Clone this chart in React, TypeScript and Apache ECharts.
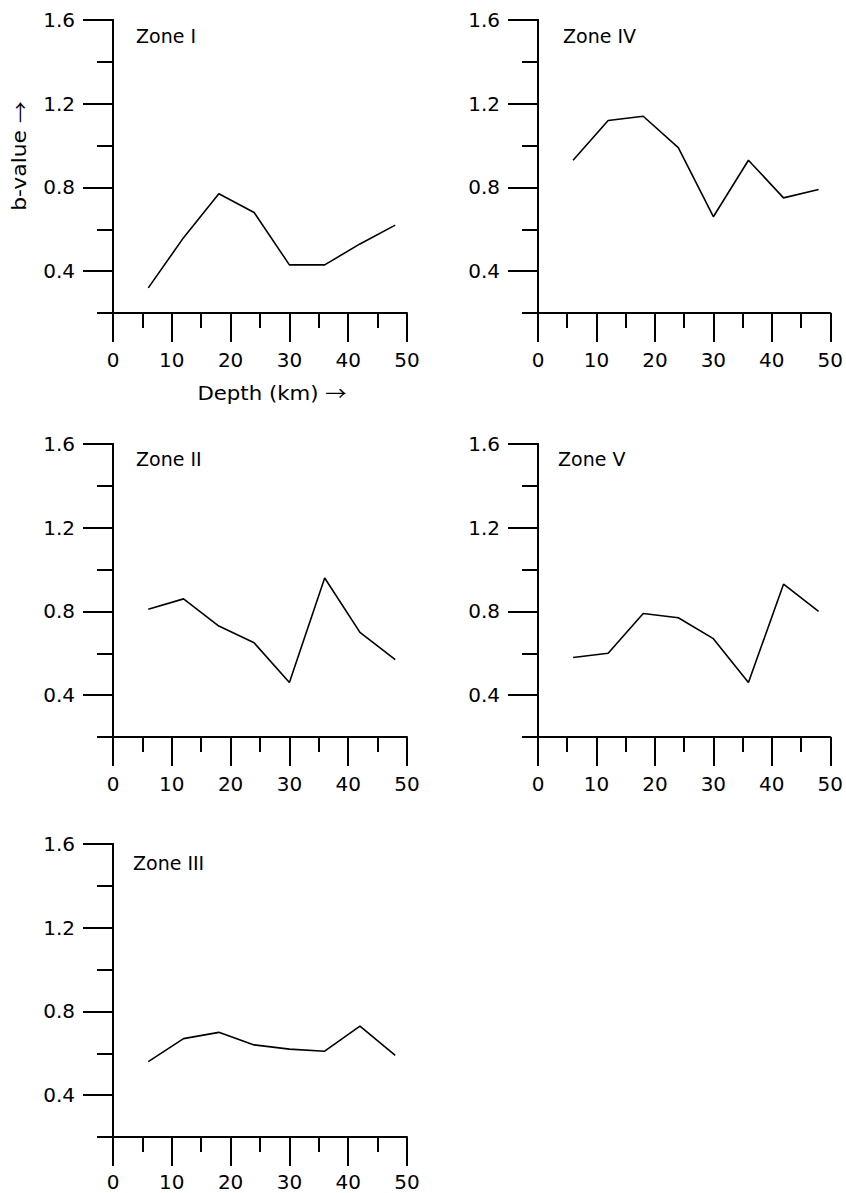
import React, { useEffect, useRef } from "react";
import * as echarts from "echarts";

const depths = [6, 12, 18, 24, 30, 36, 42, 48];
const zoneI = [0.32, 0.56, 0.77, 0.68, 0.43, 0.43, 0.53, 0.62];
const zoneIV = [0.93, 1.12, 1.14, 0.99, 0.66, 0.93, 0.75, 0.79];
const zoneII = [0.81, 0.86, 0.73, 0.65, 0.46, 0.96, 0.7, 0.57];
const zoneV = [0.58, 0.6, 0.79, 0.77, 0.67, 0.46, 0.93, 0.8];
const zoneIII = [0.56, 0.67, 0.7, 0.64, 0.62, 0.61, 0.73, 0.59];

const zoneNames = ["Zone I", "Zone IV", "Zone II", "Zone V", "Zone III"];
const zoneSeries = [zoneI, zoneIV, zoneII, zoneV, zoneIII];
const yMajorTicks = [0.4, 0.8, 1.2, 1.6];
const yMinorTicks = [0.2, 0.6, 1.0, 1.4];

const FONT = "'DejaVu Sans', 'Liberation Sans', Arial, sans-serif";
const ARROW_FONT = "'Noto Sans CJK SC', 'DejaVu Sans', sans-serif";

// panel layout (pixels)
const grids = [
  { left: 113, top: 20, width: 294, height: 293 },
  { left: 538, top: 20, width: 294, height: 293 },
  { left: 113, top: 444, width: 294, height: 293 },
  { left: 538, top: 444, width: 294, height: 293 },
  { left: 113, top: 844, width: 294, height: 293 },
];
const xLabelMargins = [37, 37, 37, 37, 35];
const zoneLabelPos = [
  [136, 36],
  [563, 36],
  [136, 459],
  [558, 459],
  [133, 863],
];

export default function App() {
  const ref = useRef<HTMLDivElement>(null);

  useEffect(() => {
    if (!ref.current) return;
    const chart = echarts.init(ref.current, null, { renderer: "svg" });
    const black = "#000";
    const axisLine = { show: true, onZero: false, lineStyle: { color: black, width: 2 } };

    const xAxis: any[] = [];
    const yAxis: any[] = [];
    const series: any[] = [];

    grids.forEach((g, i) => {
      xAxis.push({
        gridIndex: i,
        type: "value",
        min: 0,
        max: 50,
        interval: 10,
        axisLine,
        axisTick: { show: true, length: 29, lineStyle: { color: black, width: 2 } },
        minorTick: { show: true, splitNumber: 2, length: 15, lineStyle: { color: black, width: 2 } },
        splitLine: { show: false },
        minorSplitLine: { show: false },
        axisLabel: {
          margin: xLabelMargins[i],
          fontSize: 20,
          lineHeight: 20,
          color: black,
          fontFamily: FONT,
        },
      });
      yAxis.push({
        gridIndex: i,
        type: "value",
        position: "left",
        min: 0.2,
        max: 1.6,
        axisLine,
        axisTick: { show: true, length: 30, customValues: yMajorTicks, lineStyle: { color: black, width: 2 } },
        axisLabel: {
          customValues: yMajorTicks,
          formatter: (v: number) => v.toFixed(1),
          margin: 38,
          fontSize: 20,
          color: black,
          fontFamily: FONT,
        },
        splitLine: { show: false },
      });
      yAxis.push({
        gridIndex: i,
        type: "value",
        position: "left",
        min: 0.2,
        max: 1.6,
        axisLine,
        axisTick: { show: true, length: 16, customValues: yMinorTicks, lineStyle: { color: black, width: 2 } },
        axisLabel: { show: false },
        splitLine: { show: false },
      });
      series.push({
        type: "line",
        name: zoneNames[i],
        xAxisIndex: i,
        yAxisIndex: 2 * i,
        data: depths.map((d, k) => [d, zoneSeries[i][k]]),
        symbol: "none",
        lineStyle: { color: black, width: 1.6 },
      });
    });

    const graphic: any[] = zoneNames.map((name, i) => ({
      type: "text",
      x: zoneLabelPos[i][0],
      y: zoneLabelPos[i][1],
      style: {
        text: name,
        fill: black,
        font: `19px ${FONT}`,
        textAlign: "left",
        textVerticalAlign: "middle",
      },
    }));
    const richArrow = { a: { fontFamily: ARROW_FONT, fontSize: 19, fill: black, color: black } };
    graphic.push({
      type: "text",
      x: 272,
      y: 393,
      scaleX: 1.12,
      style: {
        text: "Depth (km) {a|\u2192}",
        rich: richArrow,
        fill: black,
        fontFamily: FONT,
        fontSize: 19,
        textAlign: "center",
        textVerticalAlign: "middle",
      },
    });
    graphic.push({
      type: "text",
      x: 20,
      y: 156,
      rotation: Math.PI / 2,
      scaleX: 1.15,
      style: {
        text: "b-value {a|\u2192}",
        rich: richArrow,
        fill: black,
        fontFamily: FONT,
        fontSize: 19,
        textAlign: "center",
        textVerticalAlign: "middle",
      },
    });

    chart.setOption({
      animation: false,
      backgroundColor: "#fff",
      grid: grids.map((g) => ({ ...g, containLabel: false })),
      xAxis,
      yAxis,
      series,
      graphic,
    });

    return () => chart.dispose();
  }, []);

  return (
    <div
      ref={ref}
      style={{ position: "absolute", left: 0, top: 0, width: 846, height: 1193 }}
    />
  );
}
